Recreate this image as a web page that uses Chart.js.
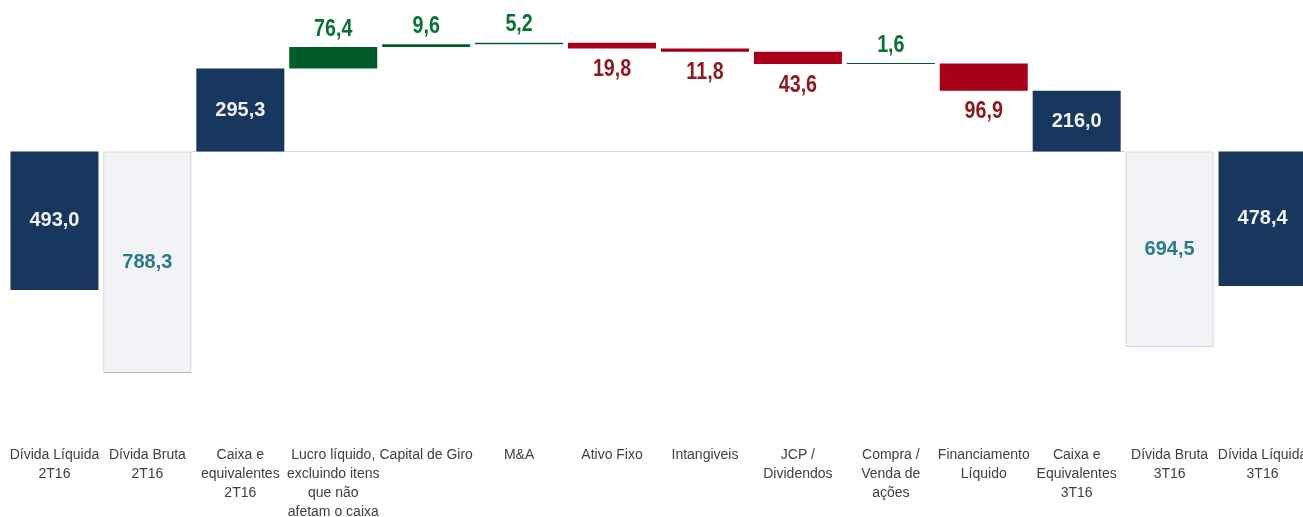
<!DOCTYPE html>
<html>
<head>
<meta charset="utf-8">
<script src="https://cdn.jsdelivr.net/npm/chart.js@4"></script>
<style>
  body { margin: 0; background: #fff; overflow: hidden; }
  #wrap { width: 1309px; height: 517px; }
</style>
</head>
<body>
<div id="wrap"><canvas id="graficoFluxo" width="1309" height="517"></canvas></div>
<script>
// categorias (rotulos do eixo x, uma linha por item)
var categorias = [
  ['Dívida Líquida', '2T16'],
  ['Dívida Bruta', '2T16'],
  ['Caixa e', 'equivalentes', '2T16'],
  ['Lucro líquido,', 'excluindo itens', 'que não', 'afetam o caixa'],
  ['Capital de Giro'],
  ['M&A'],
  ['Ativo Fixo'],
  ['Intangiveis'],
  ['JCP /', 'Dividendos'],
  ['Compra /', 'Venda de', 'ações'],
  ['Financiamento', 'Líquido'],
  ['Caixa e', 'Equivalentes', '3T16'],
  ['Dívida Bruta', '3T16'],
  ['Dívida Líquida', '3T16']
];
var valores = [493.0, 788.3, 295.3, 76.4, 9.6, 5.2, 19.8, 11.8, 43.6, 1.6, 96.9, 216.0, 694.5, 478.4];
var tipos = ['divida', 'bruta', 'caixa', 'entrada', 'entrada', 'entrada', 'saida', 'saida', 'saida', 'entrada', 'saida', 'caixa', 'bruta', 'divida'];

var cores = {
  divida: '#17375e',
  bruta: '#f2f3f7',
  caixa: '#17375e',
  entrada: '#005c28',
  saida: '#a8001a'
};
var coresTexto = {
  divida: '#f2f2f2',
  bruta: '#2b7a8c',
  caixa: '#f2f2f2',
  entrada: '#0b7033',
  saida: '#8c1a1e'
};

// monta as barras flutuantes do waterfall
var barras = [];
var acumulado = 0;
for (var i = 0; i < valores.length; i++) {
  var v = valores[i];
  if (tipos[i] == 'divida' || tipos[i] == 'bruta') {
    barras.push([0, -v]);
  } else if (tipos[i] == 'caixa') {
    barras.push([0, v]);
    acumulado = v;
  } else if (tipos[i] == 'entrada') {
    barras.push([acumulado, acumulado + v]);
    acumulado = acumulado + v;
  } else {
    barras.push([acumulado, acumulado - v]);
    acumulado = acumulado - v;
  }
}

function formata(v) {
  return v.toFixed(1).replace('.', ',');
}

// linha do zero
var linhaZero = {
  id: 'linhaZero',
  beforeDatasetsDraw: function (chart) {
    var ctx = chart.ctx;
    var x = chart.scales.x;
    var y0 = Math.round(chart.scales.y.getPixelForValue(0)) + 0.5;
    var passo = x.getPixelForValue(1) - x.getPixelForValue(0);
    ctx.save();
    ctx.strokeStyle = '#d4d4dc';
    ctx.lineWidth = 1;
    ctx.beginPath();
    ctx.moveTo(x.getPixelForValue(1) + passo / 2 - 2, y0);
    ctx.lineTo(x.getPixelForValue(11) + passo / 2 + 2, y0);
    ctx.stroke();
    ctx.restore();
  }
};

// texto "estreito" (tipo Arial Narrow) escalando na horizontal
function textoEstreito(ctx, texto, x, y) {
  ctx.save();
  ctx.translate(x, y);
  ctx.scale(0.82, 1);
  ctx.fillText(texto, 0, 0);
  ctx.restore();
}

// rotulos dos valores
var rotulos = {
  id: 'rotulos',
  afterDatasetsDraw: function (chart) {
    var ctx = chart.ctx;
    var meta = chart.getDatasetMeta(0);
    ctx.save();
    ctx.textAlign = 'center';
    ctx.textBaseline = 'middle';
    meta.data.forEach(function (bar, i) {
      var topo = Math.min(bar.y, bar.base);
      var fundo = Math.max(bar.y, bar.base);
      var t = tipos[i];
      var texto = formata(valores[i]);
      ctx.fillStyle = coresTexto[t];
      if (t == 'entrada') {
        ctx.font = 'bold 24px "Liberation Sans", sans-serif';
        textoEstreito(ctx, texto, bar.x, topo - 18);
      } else if (t == 'saida') {
        ctx.font = 'bold 24px "Liberation Sans", sans-serif';
        textoEstreito(ctx, texto, bar.x, fundo + 21);
      } else {
        ctx.font = 'bold 20px "Liberation Sans", sans-serif';
        ctx.fillText(texto, bar.x, (topo + fundo) / 2);
      }
    });
    ctx.restore();
  }
};

var ctx = document.getElementById('graficoFluxo').getContext('2d');
var chart = new Chart(ctx, {
  type: 'bar',
  data: {
    labels: categorias,
    datasets: [{
      data: barras,
      backgroundColor: tipos.map(function (t) { return cores[t]; }),
      borderColor: tipos.map(function (t) { return t == 'bruta' ? '#b4b4bc' : cores[t]; }),
      borderWidth: tipos.map(function (t) { return t == 'bruta' ? 1 : 0; }),
      borderSkipped: false,
      minBarLength: 1,
      barPercentage: 0.947,
      categoryPercentage: 1
    }]
  },
  options: {
    responsive: false,
    animation: false,
    devicePixelRatio: 1,
    layout: { padding: { left: 8, right: 0, top: 0, bottom: 0 } },
    plugins: {
      legend: { display: false },
      tooltip: { enabled: false }
    },
    scales: {
      x: {
        grid: { display: false },
        border: { display: false },
        ticks: {
          color: '#404040',
          font: { family: '"Liberation Sans", sans-serif', size: 14, lineHeight: 1.36 },
          padding: 6,
          maxRotation: 0,
          minRotation: 0,
          autoSkip: false
        },
        afterFit: function (scale) {
          scale.height = 85;
          scale.paddingLeft = 0;
          scale.paddingRight = 0;
        }
      },
      y: {
        display: false,
        min: -998,
        max: 539
      }
    }
  },
  plugins: [linhaZero, rotulos]
});
</script>
</body>
</html>
